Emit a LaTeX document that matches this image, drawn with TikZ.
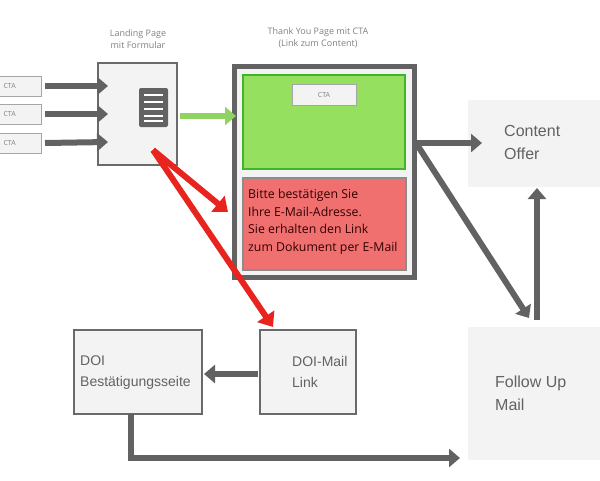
\documentclass[tikz,border=0pt]{standalone}
\usepackage{fontspec}
\setmainfont{Open Sans}
\newfontfamily\arialf{Liberation Sans}
\usetikzlibrary{arrows.meta}
\definecolor{dg}{HTML}{626262}
\definecolor{lg}{HTML}{F3F3F3}
\definecolor{bd}{HTML}{6A6A6A}
\definecolor{gr}{HTML}{96E060}
\definecolor{gb}{HTML}{3FB52A}
\definecolor{rd}{HTML}{F07070}
\definecolor{ra}{HTML}{E8241F}
\definecolor{la}{HTML}{8FD460}
\begin{document}
\begin{tikzpicture}[x=1pt,y=-1pt,
 box/.style={draw=bd,line width=2pt,fill=lg},
 cta/.style={draw=gray!70,line width=0.8pt,fill=lg,inner sep=0pt},
 ga/.style={draw=dg,line width=6pt,-{Triangle[length=11pt,width=18pt]}},
 ra2/.style={draw=ra,line width=6pt,-{Triangle[length=13pt,width=20pt]}},
 lab/.style={font=\fontsize{9}{12.5}\selectfont,text=gray,align=center},
 big/.style={font=\arialf\fontsize{16}{23}\selectfont,text=dg,align=left,anchor=north west,inner sep=0pt},
 mid/.style={font=\arialf\fontsize{14}{21}\selectfont,text=dg,align=left,anchor=north west,inner sep=0pt}]
\useasboundingbox (0,0) rectangle (600,480);
% CTA boxes
\foreach \y/\n in {76/c1,104/c2,133/c3}{
 \draw[cta] (-2,\y) rectangle (41,\y+20);
 \node[font=\fontsize{7}{8}\selectfont,text=gray,anchor=west] at (0,\y+10) {CTA};
 \coordinate (\n) at (45,\y+10);
}
% landing page
\draw[box] (98,63) rectangle (177,165);
\node[lab] at (138,39) {Landing Page\\mit Formular};
\fill[dg,rounded corners=2pt] (139,88) rectangle (168,127);
\foreach \yy in {95,102,109,116,121}{\draw[white,line width=1.2pt] (144,\yy) -- (163,\yy);}
\foreach \n/\y in {c1/86,c2/114,c3/142}{\coordinate (e\n) at (108,\y);\draw[ga] (\n) -- (e\n);}
% thank you page
\node[lab] at (318,38) {Thank You Page mit CTA\\(Link zum Content)};
\draw[draw=dg,line width=5pt,fill=lg] (234,66) rectangle (414,277);
\draw[draw=gb,line width=2.5pt,fill=gr] (243,75) rectangle (405,169);
\draw[cta] (292,84) rectangle (356,105);
\node[font=\fontsize{7}{8}\selectfont,text=gray] at (324,94.5) {CTA};
\draw[draw=gray!90,line width=2pt,fill=rd] (243,178) rectangle (406,270);
\node[anchor=north west,inner sep=0pt,font=\fontsize{12.3}{17.5}\selectfont,text=black!80!red,align=left] at (248,189) {Bitte bestätigen Sie\\Ihre E-Mail-Adresse.\\Sie erhalten den Link\\zum Dokument per E-Mail};
\coordinate (lpg) at (180,116);\coordinate (tyg) at (236,116);
\draw[draw=la,line width=6pt,-{Triangle[length=11pt,width=18pt]}] (lpg) -- (tyg);
% content offer
\fill[lg] (468,100) rectangle (600,187);
\node[big] (co) at (504,125) {Content\\Offer};
\fill[lg] (468,327) rectangle (600,460);
\node[big] (fu) at (495,376) {Follow Up\\Mail};
\coordinate (ty) at (416,143);
\coordinate (coin) at (482,143);
\coordinate (fuin) at (529,318);
\draw[ga] (ty) -- (coin);
\draw[ga] (ty) -- (fuin);
\coordinate (fuo) at (537,320);\coordinate (coo) at (537,188);
\draw[ga] (fuo) -- (coo);
% DOI
\draw[box] (260,330) rectangle (356,414);
\node[mid] (dm) at (292,356) {DOI-Mail\\Link};
\draw[box] (74,330) rectangle (202,414);
\node[mid] (db) at (80,356) {DOI\\Bestätigungsseite};
\coordinate (dml) at (258,374);\coordinate (dbr) at (204,374);
\draw[ga] (dml) -- (dbr);
\coordinate (dbb) at (131,414);\coordinate (fin) at (460,458);
\draw[ga] (dbb) |- (fin);
% red arrows
\coordinate (f) at (153,150);
\coordinate (r1) at (228,212);\coordinate (r2) at (273,327);
\draw[ra2] (f) -- (r1);
\draw[ra2] (f) -- (r2);
\end{tikzpicture}
\end{document}
